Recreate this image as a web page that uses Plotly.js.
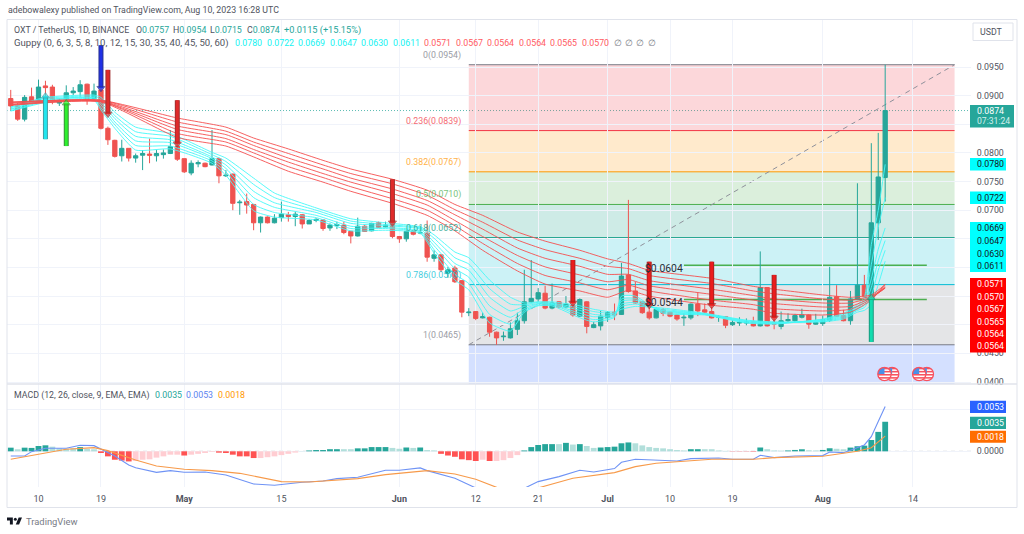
<!DOCTYPE html>
<html><head><meta charset="utf-8">
<script src="https://cdn.plot.ly/plotly-3.0.1.min.js"></script>
<style>html,body{margin:0;padding:0;background:#fff}#c{width:1024px;height:534px}</style>
</head><body><div id="c"></div>
<script>
// ---------- OHLC, one value per daily candle, first candle = Apr 6 (day -4 relative to Apr 10)
const firstDay = -4;
const opens = [.0895,.0882,.0859,.0898,.0890,.0917,.0915,.0887,.0893,.0905,.0907,.0920,.0895,.0910,.0843,.0822,.0795,.0808,.0791,.0796,.0798,.0795,.0797,.0799,.0812,.0790,.0765,.0781,.0782,.0779,.0790,.0760,.0763,.0713,.0715,.0710,.0678,.0688,.0678,.0687,.0692,.0689,.0692,.0676,.0682,.0683,.0669,.0673,.0674,.0663,.0655,.0672,.0664,.0678,.0671,.0675,.0654,.0650,.0663,.0660,.0660,.0616,.0622,.0590,.0599,.0577,.0521,.0523,.0512,.0513,.0487,.0479,.0477,.0492,.0507,.0540,.0545,.0555,.0529,.0540,.0531,.0534,.0515,.0540,.0495,.0498,.0513,.0522,.0518,.0587,.0559,.0540,.0522,.0512,.0526,.0522,.0517,.0512,.0512,.0536,.0526,.0523,.0513,.0514,.0500,.0503,.0503,.0505,.0498,.0565,.0504,.0497,.0507,.0507,.0513,.0517,.0501,.0502,.0508,.0549,.0516,.0507,.0544,.0569,.0550,.0678,.0757];
const highs = [.0910,.0887,.0901,.0914,.0928,.0926,.0919,.0895,.0918,.0915,.0927,.0921,.0921,.0912,.0846,.0823,.0823,.0808,.0799,.0805,.0825,.0805,.0806,.0840,.0817,.0790,.0787,.0787,.0783,.0840,.0792,.0770,.0764,.0718,.0729,.0711,.0689,.0689,.0693,.0715,.0697,.0697,.0693,.0684,.0686,.0684,.0677,.0680,.0680,.0664,.0687,.0674,.0678,.0680,.0680,.0677,.0655,.0665,.0665,.0672,.0682,.0630,.0623,.0601,.0603,.0578,.0529,.0524,.0521,.0514,.0488,.0488,.0504,.0521,.0596,.0613,.0564,.0568,.0572,.0541,.0550,.0549,.0546,.0541,.0505,.0524,.0524,.0537,.0608,.0718,.0575,.0541,.0534,.0531,.0529,.0523,.0519,.0520,.0537,.0556,.0537,.0531,.0517,.0515,.0508,.0513,.0511,.0514,.0628,.0565,.0511,.0523,.0520,.0519,.0528,.0518,.0519,.0516,.0601,.0569,.0526,.0559,.0747,.0587,.0817,.0835,.0954];
const lows = [.0875,.0856,.0855,.0889,.0887,.0892,.0885,.0882,.0889,.0901,.0898,.0884,.0892,.0841,.0814,.0792,.0785,.0785,.0783,.0770,.0782,.0785,.0790,.0798,.0786,.0765,.0761,.0775,.0775,.0778,.0747,.0758,.0700,.0692,.0694,.0665,.0661,.0677,.0677,.0680,.0680,.0672,.0668,.0676,.0679,.0664,.0664,.0667,.0658,.0642,.0654,.0662,.0663,.0669,.0670,.0651,.0643,.0645,.0656,.0658,.0610,.0610,.0592,.0582,.0573,.0513,.0515,.0508,.0511,.0479,.0465,.0472,.0476,.0482,.0502,.0538,.0540,.0527,.0527,.0529,.0530,.0514,.0514,.0485,.0494,.0490,.0505,.0508,.0517,.0556,.0537,.0519,.0509,.0511,.0515,.0513,.0507,.0498,.0509,.0515,.0520,.0511,.0505,.0494,.0498,.0498,.0499,.0497,.0497,.0497,.0492,.0492,.0504,.0503,.0511,.0493,.0500,.0498,.0505,.0514,.0506,.0500,.0543,.0548,.0547,.0648,.0715];
const closes = [.0882,.0859,.0897,.0890,.0915,.0914,.0891,.0892,.0905,.0908,.0919,.0892,.0908,.0843,.0823,.0794,.0808,.0791,.0795,.0799,.0796,.0799,.0800,.0811,.0789,.0767,.0782,.0783,.0776,.0790,.0760,.0761,.0712,.0714,.0709,.0678,.0688,.0678,.0686,.0693,.0689,.0693,.0676,.0682,.0684,.0668,.0674,.0675,.0661,.0655,.0672,.0663,.0677,.0670,.0674,.0654,.0650,.0663,.0658,.0661,.0618,.0622,.0596,.0596,.0575,.0522,.0522,.0511,.0514,.0487,.0477,.0480,.0493,.0507,.0540,.0546,.0556,.0529,.0538,.0531,.0536,.0517,.0544,.0497,.0500,.0515,.0521,.0517,.0585,.0558,.0538,.0521,.0512,.0527,.0520,.0515,.0510,.0513,.0536,.0524,.0522,.0512,.0514,.0499,.0504,.0504,.0505,.0498,.0565,.0498,.0501,.0507,.0509,.0516,.0517,.0501,.0504,.0509,.0548,.0515,.0507,.0545,.0569,.0550,.0678,.0758,.0874];

// ---------- Guppy lines read at selected days
const redDays = [-4,9,20,27,31,36,41,45,51,56,60,64,69,73,78,82,85,88,97,103,106,113,117,120,122];
const red60 = [.0889,.0892,.0861,.0845,.0826,.0807,.0787,.0772,.0754,.0735,.0710,.0691,.0662,.0646,.0630,.0615,.0607,.0595,.0581,.0567,.0562,.0552,.0548,.0552,.0570];
const red50 = [.0888,.0892,.0854,.0838,.0819,.0799,.0779,.0764,.0746,.0726,.0701,.0679,.0648,.0631,.0616,.0602,.0598,.0586,.0572,.0559,.0554,.0545,.0543,.0550,.0565];
const red45 = [.0887,.0891,.0847,.0832,.0813,.0791,.0772,.0756,.0737,.0717,.0692,.0667,.0634,.0616,.0602,.0588,.0588,.0577,.0562,.0551,.0545,.0538,.0538,.0548,.0564];
const red40 = [.0885,.0890,.0841,.0825,.0806,.0784,.0764,.0749,.0729,.0709,.0682,.0654,.0621,.0601,.0587,.0575,.0579,.0568,.0553,.0543,.0537,.0531,.0532,.0547,.0564];
const red35 = [.0884,.0890,.0834,.0819,.0800,.0776,.0757,.0741,.0720,.0700,.0673,.0642,.0607,.0586,.0573,.0561,.0569,.0559,.0543,.0535,.0528,.0524,.0527,.0545,.0567];
const red30 = [.0883,.0889,.0827,.0812,.0793,.0768,.0749,.0733,.0712,.0691,.0664,.0630,.0594,.0571,.0559,.0548,.0560,.0550,.0534,.0527,.0520,.0517,.0522,.0543,.0571];
const cyanDays = [-4,1,8,9,11,14,19,25,27,31,34,40,45,50,55,57,60,62,65,68,70,72,74,78,80,83,84,86,90,96,102,106,113,116,118,119,120,121,122];
const cyan3  = [.0873,.0888,.0892,.0875,.0843,.0805,.0807,.0782,.0761,.0699,.0688,.0683,.0664,.0665,.0660,.0625,.0578,.0561,.0503,.0489,.0522,.0533,.0533,.0512,.0505,.0513,.0550,.0550,.0520,.0517,.0503,.0501,.0510,.0520,.0535,.0548,.0640,.0700,.0780];
const cyan5  = [.0874,.0890,.0894,.0879,.0849,.0813,.0812,.0786,.0767,.0710,.0696,.0687,.0668,.0668,.0662,.0631,.0588,.0572,.0518,.0501,.0525,.0534,.0535,.0516,.0509,.0515,.0545,.0546,.0522,.0518,.0504,.0502,.0509,.0518,.0532,.0543,.0605,.0670,.0722];
const cyan8  = [.0876,.0892,.0896,.0884,.0854,.0821,.0818,.0790,.0773,.0722,.0705,.0691,.0672,.0670,.0664,.0638,.0598,.0583,.0533,.0513,.0528,.0536,.0536,.0520,.0514,.0517,.0541,.0543,.0524,.0518,.0505,.0503,.0508,.0516,.0530,.0539,.0580,.0632,.0669];
const cyan10 = [.0877,.0893,.0897,.0888,.0860,.0829,.0823,.0793,.0779,.0733,.0713,.0696,.0677,.0673,.0667,.0644,.0607,.0595,.0548,.0524,.0532,.0537,.0537,.0525,.0518,.0518,.0536,.0539,.0525,.0519,.0506,.0503,.0507,.0514,.0527,.0534,.0565,.0612,.0647];
const cyan12 = [.0879,.0895,.0899,.0893,.0865,.0837,.0829,.0797,.0785,.0745,.0722,.0700,.0681,.0675,.0669,.0651,.0617,.0606,.0563,.0536,.0535,.0539,.0538,.0529,.0523,.0520,.0532,.0536,.0527,.0519,.0507,.0504,.0506,.0512,.0525,.0530,.0550,.0595,.0630];
const cyan15 = [.0880,.0897,.0901,.0897,.0871,.0845,.0834,.0801,.0791,.0756,.0730,.0704,.0685,.0678,.0671,.0657,.0627,.0617,.0578,.0548,.0538,.0540,.0540,.0533,.0527,.0522,.0527,.0532,.0529,.0520,.0508,.0505,.0505,.0510,.0522,.0525,.0535,.0570,.0611];

// ---------- MACD pane
const histValues = [.00043,.00024,.00043,.0004,.00063,.00071,.00055,.00035,.0003,.00035,.0005,.0003,.00024,-.0002,-.0006,-.001,-.0011,-.0012,-.00115,-.001,-.00095,-.00075,-.0006,-.0004,-.0004,-.0005,-.0004,-.0003,-.0002,-.00008,-.00016,-.0002,-.0004,-.0006,-.0006,-.0008,-.0008,-.0007,-.0006,-.00045,-.0003,-.00015,.00002,.0001,.00015,.00015,.00025,.00025,.00025,.00025,.00035,.00035,.0005,.0005,.0005,.0004,.0003,.00045,.0004,.00045,.00015,.0001,-.0003,-.0005,-.00065,-.00095,-.00105,-.00115,-.001,-.00115,-.00115,-.00105,-.0008,-.00045,.0001,.0005,.00075,.00085,.00085,.00085,.001,.0008,.00085,.00063,.0004,.00045,.0005,.00055,.00095,.00105,.00095,.0007,.0005,.0004,.00035,.00025,.00015,.0001,.00025,.00025,.00025,.00025,.0001,.00005,-.00003,-.00003,-.00003,-.00005,.00045,.00025,.0001,.00008,.0001,.00016,.00024,.00012,.0001,.00016,.00036,.0003,.00024,.00044,.0006,.00067,.00134,.0023,.0035];
const histStrong = [1,0,1,1,1,1,0,0,0,0,1,0,0,1,1,1,1,1,0,0,0,0,0,0,0,1,0,0,0,0,1,1,1,1,1,1,0,0,0,0,0,0,0,1,1,1,1,1,0,0,1,1,1,1,1,0,0,1,0,1,0,0,1,1,1,1,1,1,0,1,0,0,0,0,1,1,1,1,1,0,1,0,1,0,0,1,1,1,1,1,0,0,0,0,0,0,0,0,1,1,0,0,0,0,1,1,1,1,1,0,0,0,1,1,1,0,0,1,1,0,0,1,1,1,1,1,1];
const macdDays = [-4,-2,-1,1,4,6,8,9,11,13,14,17,19,21,24,27,31,34,38,41,43,46,50,52,55,56,60,63,66,69,70,72,75,78,80,83,84,86,89,92,94,98,100,103,104,106,109,113,114,116,119,120,121,122];
const macdLine = [-.00055,-.00055,-.00004,.00036,.00036,.00071,.00067,.00028,-.00055,-.00162,-.00194,-.00249,-.00229,-.00249,-.00245,-.0028,-.00387,-.00403,-.00367,-.00352,-.00324,-.00308,-.00225,-.00225,-.00197,-.00229,-.0032,-.00434,-.00577,-.00517,-.00438,-.00359,-.003,-.00225,-.00245,-.00205,-.0013,-.00095,-.00107,-.00115,-.00087,-.00079,-.00095,-.00095,-.00047,-.00075,-.00055,-.00051,-.00008,-.00016,.00075,.00174,.00352,.0053];
const signalDays = [-4,-1,4,8,10,14,17,21,25,29,33,35,39,43,46,50,52,55,56,60,63,66,69,72,77,83,86,89,92,97,103,106,113,116,118,120,122];
const signalLine = [-.00095,-.00047,.00024,.00043,.00008,-.00103,-.00174,-.00213,-.00229,-.00261,-.00332,-.00359,-.00363,-.00344,-.00324,-.00276,-.00261,-.00233,-.00229,-.00269,-.00332,-.00427,-.00517,-.00434,-.0032,-.00253,-.00182,-.00142,-.00122,-.00095,-.00095,-.00075,-.00059,-.00028,0,.00043,.0018];

// ---------- Fibonacci retracement
const fibLevels = [0,.236,.382,.5,.618,.786,1];
const fibPrices = [.0954,.0839,.0767,.0710,.0652,.0570,.0465];
const fibColors = ['#787b86','#f23645','#ff9800','#4caf50','#089981','#00bcd4','#787b86'];
const fibFills  = ['rgba(242,54,69,.2)','rgba(255,152,0,.2)','rgba(76,175,80,.2)','rgba(8,153,129,.2)','rgba(0,188,212,.2)','rgba(120,123,134,.2)','rgba(41,98,255,.2)'];
const fibStartDay = 62, fibEndDay = 132;

// ---------- Support lines, arrows
const supportPrices = [.0604,.0544];
const supportLabels = ['$0.0604','$0.0544'];
const supportStartDay = 93, supportEndDay = 128, supportLabelDay = 87.25;
const arrowDays  = [9,10,20,51,77,88,97,106,1,4,120];
const arrowTails = [.0988,.0945,.0892,.0754,.0613,.0610,.0610,.0587,.0824,.0812,.0470];
const arrowTips  = [.0913,.0868,.0816,.0678,.0538,.0534,.0534,.0512,.0899,.0887,.0547];
const arrowColors= ['#2030e6','#e02a2a','#e02a2a','#e02a2a','#ec1c1c','#ec1c1c','#ec1c1c','#ec1c1c','#22e6ee','#2ef02e','#12dcae'];
const arrowEdges = ['#2a3390','#a03030','#a03030','#a03030','#a82424','#a82424','#a82424','#a82424','#3fa0a6','#3a8f3a','#1a9a80'];

// ---------- Axis labels and legends
const dateTicks = [0,9,21,35,52,63,72,82,91,100,113,126];
const dateLabels = ['10','19','<b>May</b>','15','<b>Jun</b>','12','21','<b>Jul</b>','10','19','<b>Aug</b>','14'];
const priceTicks = [.04,.045,.05,.055,.06,.065,.07,.075,.08,.085,.09,.095];
const priceLabels = ['0.0400','0.0450','','','','','0.0700','0.0750','0.0800','','0.0900','0.0950'];
const macdTicks = [0,.005];
const macdLabels = ['0.0000',''];
const cyanTags = ['0.0780','0.0722','0.0669','0.0647','0.0630','0.0611'];
const redTags  = ['0.0571','0.0570','0.0567','0.0565','0.0564','0.0564'];
const redLegend = ['0.0571','0.0567','0.0564','0.0564','0.0565','0.0570'];
const ohlcLegend = [['O','0.0757'],['H','0.0954'],['L','0.0715'],['C','0.0874']];

// ---------- helpers
const W = 1024, H = 534;
const FONT = 'Roboto, sans-serif';
const PX = x => x / W, PY = y => 1 - y / H;
const days = closes.map((_, i) => i + firstDay);
const dayOf = x => (x - 38.5) / 6.94;
const T = '#50535e', TEAL = '#26a69a';
const sp = (c, t) => `<span style="color:${c}">${t}</span>`;

const traces = [];
traces.push({type:'candlestick', x:days, open:opens, high:highs, low:lows, close:closes, xaxis:'x', yaxis:'y',
  increasing:{line:{color:TEAL,width:1}, fillcolor:TEAL},
  decreasing:{line:{color:'#ef5350',width:1}, fillcolor:'#ef5350'},
  whiskerwidth:0, showlegend:false, hoverinfo:'skip'});
[cyan3,cyan5,cyan8,cyan10,cyan12,cyan15].forEach(v => traces.push({type:'scatter',mode:'lines',x:cyanDays,y:v,xaxis:'x',yaxis:'y',
  line:{color:'rgba(70,248,248,.9)',width:1,shape:'spline',smoothing:.5},showlegend:false,hoverinfo:'skip'}));
[red60,red50,red45,red40,red35,red30].forEach(v => traces.push({type:'scatter',mode:'lines',x:redDays,y:v,xaxis:'x',yaxis:'y',
  line:{color:'rgba(245,80,80,.9)',width:1,shape:'spline',smoothing:.5},showlegend:false,hoverinfo:'skip'}));
arrowDays.forEach((d,i) => {
  const up = arrowTips[i] > arrowTails[i];
  traces.push({type:'scatter',mode:'lines',x:[d,d],y:[arrowTails[i],arrowTips[i]],xaxis:'x',yaxis:'y',
    line:{color:arrowEdges[i],width:5},showlegend:false,hoverinfo:'skip'});
  traces.push({type:'scatter',mode:'lines+markers',x:[d,d],y:[arrowTails[i],arrowTips[i]],xaxis:'x',yaxis:'y',
    line:{color:arrowColors[i],width:3},
    marker:{symbol:up?'triangle-up':'triangle-down',size:[0,7],color:arrowColors[i],line:{color:arrowEdges[i],width:1}},
    showlegend:false,hoverinfo:'skip'});
});
traces.push({type:'bar',x:days,y:histValues,xaxis:'x2',yaxis:'y2',
  marker:{color:histValues.map((v,i)=> v>=0 ? (histStrong[i]?TEAL:'#b2dfdb') : (histStrong[i]?'#ff5252':'#ffcdd2')),line:{width:0}},
  showlegend:false,hoverinfo:'skip'});
traces.push({type:'scatter',mode:'lines',x:macdDays,y:macdLine,xaxis:'x2',yaxis:'y2',line:{color:'#6f93f5',width:1.1},showlegend:false,hoverinfo:'skip'});
traces.push({type:'scatter',mode:'lines',x:signalDays,y:signalLine,xaxis:'x2',yaxis:'y2',line:{color:'#f79a4a',width:1.1},showlegend:false,hoverinfo:'skip'});

const shapes = [];
const fibEdges = fibPrices.concat([.0390]);
fibFills.forEach((c,i)=>shapes.push({type:'rect',layer:'below',xref:'x',yref:'y',x0:fibStartDay,x1:fibEndDay,y0:fibEdges[i+1],y1:fibEdges[i],fillcolor:c,line:{width:0}}));
fibPrices.forEach((p,i)=>shapes.push({type:'line',layer:'below',xref:'x',yref:'y',x0:fibStartDay,x1:fibEndDay,y0:p,y1:p,line:{color:fibColors[i],width:1}}));
shapes.push({type:'line',layer:'below',xref:'x',yref:'y',x0:fibStartDay,x1:fibEndDay,y0:fibPrices[6],y1:fibPrices[0],line:{color:'#8f919b',width:1,dash:'5px,4px'}});
supportPrices.forEach(p=>shapes.push({type:'line',layer:'below',xref:'x',yref:'y',x0:supportStartDay,x1:supportEndDay,y0:p,y1:p,line:{color:'#4caf50',width:1.5}}));
shapes.push({type:'line',layer:'below',xref:'paper',yref:'y',x0:PX(7),x1:PX(971),y0:closes[closes.length-1],y1:closes[closes.length-1],line:{color:'rgba(38,166,154,.75)',width:1,dash:'1px,2px'}});
shapes.push({type:'line',layer:'below',xref:'paper',yref:'y2',x0:PX(7),x1:PX(971),y0:0,y1:0,line:{color:'#c4c6ce',width:1,dash:'4px,4px'}});
shapes.push({type:'rect',xref:'paper',yref:'paper',x0:PX(7),x1:PX(1017),y0:PY(507.5),y1:PY(19.5),line:{color:'#e0e3eb',width:1}});
shapes.push({type:'line',xref:'paper',yref:'paper',x0:PX(7),x1:PX(1017),y0:PY(384),y1:PY(384),line:{color:'#e0e3eb',width:1.5}});
const box = (x0,x1,y0,y1,c) => shapes.push({type:'rect',xref:'paper',yref:'paper',x0:PX(x0),x1:PX(x1),y0:PY(y1),y1:PY(y0),fillcolor:c,line:{width:0}});
box(970,1014,105,127.5,TEAL);
box(970,1006,158,170.5,'#00ffff');
box(970,1006,191.5,204,'#00ffff');
box(970,1006,222,272,'#00ffff');
box(970,1006,278,352.5,'#ff0000');
box(970,1006,400.7,413,'#2962ff');
box(970,1006,416.7,429,TEAL);
box(970,1006,430.7,442.7,'#ff6d00');
shapes.push({type:'rect',xref:'paper',yref:'paper',x0:PX(973),x1:PX(1013),y0:PY(40.5),y1:PY(23),line:{color:'#e0e3eb',width:1},fillcolor:'#fff'});

const ann = [];
const txt = (x,y,text,o={}) => ann.push({xref:'paper',yref:'paper',x:PX(x),y:PY(y),text,showarrow:false,xanchor:'left',yanchor:'middle',align:'left',borderpad:0,
  font:{family:FONT,size:o.size||8.8,color:o.color||T}});
const CY = '#12f2f2', RD = '#ff5a5f';
txt(7,10,'adebowalexy published on TradingView.com, Aug 10, 2023 16:28 UTC',{size:8.8});
txt(13,30,'OXT / TetherUS, 1D, BINANCE',{size:8.8});
[135,172,209,246].forEach((x,i)=>txt(x,30,ohlcLegend[i][0]+sp(TEAL,ohlcLegend[i][1])));
txt(283,30,sp(TEAL,'+0.0115 (+15.15%)'),{size:9.2});
txt(13,43,'Guppy (0, 6, 3, 5, 8, 10, 12, 15, 30, 35, 40, 45, 50, 60)',{size:9.55});
[234.3,265.8,297.3,328.8,360,391.7].forEach((x,i)=>txt(x,43,cyanTags[i],{color:CY}));
[423.3,455,486,517.7,549,581].forEach((x,i)=>txt(x,43,redLegend[i],{color:RD}));
[613.3,623.7,635,646.7].forEach(x=>txt(x,43,'∅',{color:'#787b86'}));
txt(13,395,'MACD (12, 26, close, 9, EMA, EMA)',{size:8.8});
txt(154,395,'0.0035',{color:TEAL});
txt(185,395,'0.0053',{color:'#5b84f0'});
txt(217,395,'0.0018',{color:'#ff9800'});
txt(25,521,'TradingView',{size:9.4,color:'#787b86'});
txt(979,32,'USDT',{size:8.8,color:'#50535e'});
txt(976,111,'0.0874',{size:8.8,color:'#fff'});
txt(976,121,'07:31:24',{size:8.6,color:'#d5efec'});
[164,197.7,228.3,241,253.7,266].forEach((y,i)=>txt(976,y,cyanTags[i],{color:'#131722'}));
[284,296.6,309,321.6,334,346].forEach((y,i)=>txt(976,y,redTags[i],{color:'#fff'}));
txt(976,407,'0.0053',{color:'#fff'});
txt(976,423,'0.0035',{color:'#fff'});
txt(976,437,'0.0018',{color:'#fff'});
fibPrices.forEach((p,i)=>ann.push({xref:'x',yref:'y',x:fibStartDay,y:p,xshift:-7,yshift:3,xanchor:'right',yanchor:'bottom',showarrow:false,borderpad:0,
  text:`${fibLevels[i]}(${p.toFixed(4)})`,font:{family:FONT,size:8.8,color:fibColors[i]},opacity:.75}));
supportPrices.forEach((p,i)=>ann.push({xref:'x',yref:'y',x:supportLabelDay,y:p,yshift:-3,xanchor:'left',yanchor:'middle',showarrow:false,borderpad:0,
  text:supportLabels[i],font:{family:FONT,size:10.4,color:'#2a2e39'}}));

const flag = 'data:image/svg+xml,' + encodeURIComponent('<svg xmlns="http://www.w3.org/2000/svg" viewBox="0 0 30 30"><clipPath id="a"><circle cx="15" cy="15" r="13"/></clipPath><g clip-path="url(#a)"><rect width="30" height="30" fill="#fff"/><g fill="#f7525f"><rect y="3" width="30" height="3"/><rect y="9" width="30" height="3"/><rect y="15" width="30" height="3"/><rect y="21" width="30" height="3"/></g><rect width="15" height="15" fill="#4a90e8"/></g><circle cx="15" cy="15" r="13" fill="none" stroke="#f7525f" stroke-width="2.5"/></svg>');
const logo = 'data:image/svg+xml,' + encodeURIComponent('<svg xmlns="http://www.w3.org/2000/svg" viewBox="0 0 36 18"><path fill="#131722" d="M0 1h14v16H7V8H0z"/><circle cx="20" cy="5" r="3.5" fill="#131722"/><path fill="#131722" d="M28 1h8l-7 16h-8z"/></svg>');
const flagDays = [123,121.9,128,126.9];
const images = flagDays.map(d=>({source:flag,xref:'x',yref:'paper',x:d,y:PY(374),sizex:15.5/6.94,sizey:15.5/H,xanchor:'center',yanchor:'middle',sizing:'stretch',layer:'above'}));
images.push({source:logo,xref:'paper',yref:'paper',x:PX(7),y:PY(521),sizex:15/W,sizey:8/H,xanchor:'left',yanchor:'middle',sizing:'stretch',layer:'above'});

const gridC = '#f0f3fa';
const xr = [dayOf(7), dayOf(971)];
const xcommon = {range:xr,domain:[PX(7),PX(971)],type:'linear',tickmode:'array',tickvals:dateTicks,showgrid:true,gridcolor:gridC,gridwidth:1,zeroline:false,showline:false,ticks:'',fixedrange:true};
const layout = {
  width:W,height:H,margin:{l:0,r:0,t:0,b:0,pad:0},paper_bgcolor:'#fff',plot_bgcolor:'#fff',showlegend:false,bargap:.16,boxgap:.12,
  font:{family:FONT,color:T,size:9},
  xaxis:Object.assign({},xcommon,{anchor:'y',showticklabels:false,rangeslider:{visible:false}}),
  xaxis2:Object.assign({},xcommon,{anchor:'y2',ticktext:dateLabels,showticklabels:true,tickfont:{family:FONT,size:9,color:T},ticklabelstandoff:5}),
  yaxis:{domain:[PY(384),PY(20)],range:[.04+(382-384)/5727,.04+(382-20)/5727],anchor:'x',side:'right',tickmode:'array',tickvals:priceTicks,ticktext:priceLabels,
    tickfont:{family:FONT,size:8.8,color:T},showgrid:true,gridcolor:gridC,zeroline:false,ticks:'outside',ticklen:3,tickcolor:'rgba(0,0,0,0)',showline:false,fixedrange:true},
  yaxis2:{domain:[PY(487),PY(384)],range:[(451.3-487)/8440,(451.3-384)/8440],anchor:'x2',side:'right',tickmode:'array',tickvals:macdTicks,ticktext:macdLabels,
    tickfont:{family:FONT,size:8.8,color:T},showgrid:true,gridcolor:gridC,zeroline:false,ticks:'outside',ticklen:3,tickcolor:'rgba(0,0,0,0)',showline:false,fixedrange:true},
  shapes,annotations:ann,images
};
Plotly.newPlot('c',traces,layout,{displayModeBar:false,staticPlot:true});
</script></body></html>
